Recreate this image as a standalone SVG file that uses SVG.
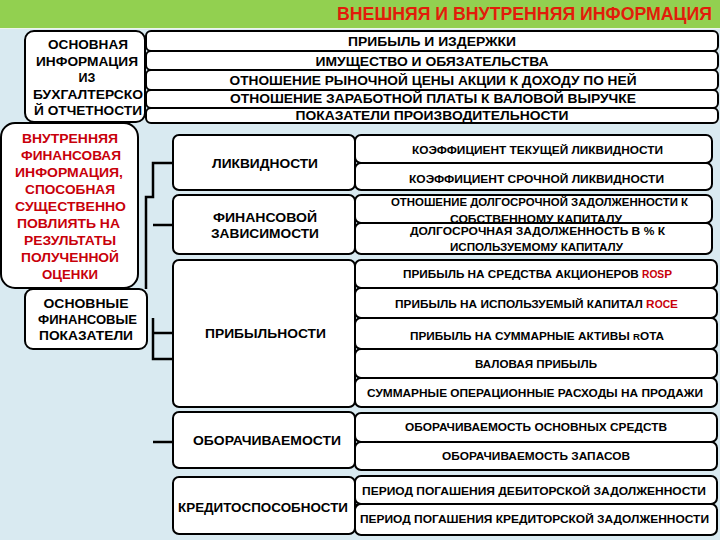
<svg xmlns="http://www.w3.org/2000/svg" width="720" height="540" viewBox="0 0 720 540">
<style>
.bx{fill:#fff;stroke:#000;stroke-width:2}
.t{font-family:"Liberation Sans",Arial,sans-serif;font-weight:bold;text-anchor:middle;fill:#000}
.h{font-size:13px}
.c{font-size:13px}
.s{font-size:11.5px}
.l{font-size:12.5px}
.red{fill:#c8000a}
.ln{stroke:#000;stroke-width:2.5;fill:none}
</style>
<rect x="0" y="0" width="720" height="540" fill="#d9eaf1"/>
<rect x="0" y="0" width="720" height="28" fill="#92d050"/>
<line x1="0" y1="28.5" x2="720" y2="28.5" stroke="#eef5ea" stroke-width="1"/>
<g id="title"><text x="712" y="20" style="font-family:'Liberation Sans',Arial,sans-serif;font-weight:bold;font-size:18px;fill:#e21c0a;text-anchor:end" textLength="375" lengthAdjust="spacingAndGlyphs">ВНЕШНЯЯ И ВНУТРЕННЯЯ ИНФОРМАЦИЯ</text></g>

<g id="connectors">
<path class="ln" d="M173,163 H153 V197 H146 V289"/>
<path class="ln" d="M153,225 H173"/>
<path class="ln" d="M153,333 H173 M173,359 H153 V318"/>
<path class="ln" d="M153,442 H173"/>
<path class="ln" d="M348,505 H360"/>
</g>

<g id="top-rows">
<g id="row-profit"><rect class="bx" x="146" y="31" width="572" height="20" rx="5"/><text class="t h" x="432" y="46.3" textLength="168" lengthAdjust="spacingAndGlyphs">ПРИБЫЛЬ И ИЗДЕРЖКИ</text></g>
<g id="row-assets"><rect class="bx" x="146" y="51" width="572" height="19" rx="5"/><text class="t h" x="432" y="65.5" textLength="233" lengthAdjust="spacingAndGlyphs">ИМУЩЕСТВО И ОБЯЗАТЕЛЬСТВА</text></g>
<g id="row-pe"><rect class="bx" x="146" y="70" width="572" height="20" rx="5"/><text class="t h" x="433" y="84.5" textLength="407" lengthAdjust="spacingAndGlyphs">ОТНОШЕНИЕ РЫНОЧНОЙ ЦЕНЫ АКЦИИ К ДОХОДУ ПО НЕЙ</text></g>
<g id="row-wage"><rect class="bx" x="146" y="90" width="572" height="18" rx="5"/><text class="t h" x="433" y="103.2" textLength="406" lengthAdjust="spacingAndGlyphs">ОТНОШЕНИЕ ЗАРАБОТНОЙ ПЛАТЫ К ВАЛОВОЙ ВЫРУЧКЕ</text></g>
<g id="row-productivity"><rect class="bx" x="146" y="108" width="572" height="15" rx="5"/><text class="t h" x="432" y="120" textLength="273" lengthAdjust="spacingAndGlyphs">ПОКАЗАТЕЛИ ПРОИЗВОДИТЕЛЬНОСТИ</text></g>
</g>

<g id="basic-info">
<rect class="bx" x="25" y="31" width="120" height="91" rx="9"/>
<text class="t l" x="88" y="49" textLength="80" lengthAdjust="spacingAndGlyphs">ОСНОВНАЯ</text>
<text class="t l" x="87" y="65.5" textLength="102" lengthAdjust="spacingAndGlyphs">ИНФОРМАЦИЯ</text>
<text class="t l" x="87" y="82">ИЗ</text>
<text class="t l" x="88" y="98.5" textLength="110" lengthAdjust="spacingAndGlyphs">БУХГАЛТЕРСКО</text>
<text class="t l" x="88" y="115" textLength="108" lengthAdjust="spacingAndGlyphs">Й ОТЧЕТНОСТИ</text>
</g>

<g id="internal-info">
<rect class="bx" x="1" y="123" width="137" height="165" rx="14"/>
<text class="t l red" x="70" y="142.5" textLength="96" lengthAdjust="spacingAndGlyphs">ВНУТРЕННЯЯ</text>
<text class="t l red" x="71" y="159.5" textLength="100" lengthAdjust="spacingAndGlyphs">ФИНАНСОВАЯ</text>
<text class="t l red" x="69" y="176.5" textLength="108" lengthAdjust="spacingAndGlyphs">ИНФОРМАЦИЯ,</text>
<text class="t l red" x="70" y="193.5" textLength="90" lengthAdjust="spacingAndGlyphs">СПОСОБНАЯ</text>
<text class="t l red" x="70.5" y="211" textLength="111" lengthAdjust="spacingAndGlyphs">СУЩЕСТВЕННО</text>
<text class="t l red" x="68.5" y="228" textLength="103" lengthAdjust="spacingAndGlyphs">ПОВЛИЯТЬ НА</text>
<text class="t l red" x="70" y="245" textLength="92" lengthAdjust="spacingAndGlyphs">РЕЗУЛЬТАТЫ</text>
<text class="t l red" x="70" y="262" textLength="98" lengthAdjust="spacingAndGlyphs">ПОЛУЧЕННОЙ</text>
<text class="t l red" x="70" y="278.5" textLength="56" lengthAdjust="spacingAndGlyphs">ОЦЕНКИ</text>
</g>

<g id="basic-indicators">
<rect class="bx" x="25" y="289" width="122" height="60" rx="8"/>
<text class="t l" x="86" y="308" textLength="85" lengthAdjust="spacingAndGlyphs">ОСНОВНЫЕ</text>
<text class="t l" x="87.5" y="324" textLength="99" lengthAdjust="spacingAndGlyphs">ФИНАНСОВЫЕ</text>
<text class="t l" x="86" y="340" textLength="94" lengthAdjust="spacingAndGlyphs">ПОКАЗАТЕЛИ</text>
</g>

<g id="cat-liquidity">
<rect class="bx" x="173" y="135" width="182" height="55" rx="6"/>
<text class="t c" x="265" y="167.5" textLength="106" lengthAdjust="spacingAndGlyphs">ЛИКВИДНОСТИ</text>
</g>
<g id="cat-dependence">
<rect class="bx" x="173" y="195" width="182" height="59" rx="6"/>
<text class="t c" x="265" y="221.5" textLength="104" lengthAdjust="spacingAndGlyphs">ФИНАНСОВОЙ</text>
<text class="t c" x="265" y="237.5" textLength="108" lengthAdjust="spacingAndGlyphs">ЗАВИСИМОСТИ</text>
</g>
<g id="cat-profitability">
<rect class="bx" x="173" y="260" width="182" height="147" rx="6"/>
<text class="t c" x="265.5" y="337.5" textLength="121" lengthAdjust="spacingAndGlyphs">ПРИБЫЛЬНОСТИ</text>
</g>
<g id="cat-turnover">
<rect class="bx" x="173" y="412" width="182" height="56" rx="6"/>
<text class="t c" x="267" y="444.5" textLength="148" lengthAdjust="spacingAndGlyphs">ОБОРАЧИВАЕМОСТИ</text>
</g>
<g id="cat-credit">
<rect class="bx" x="173" y="477" width="182" height="57" rx="6"/>
<text class="t c" x="263" y="511.5" textLength="170" lengthAdjust="spacingAndGlyphs">КРЕДИТОСПОСОБНОСТИ</text>
</g>

<g id="sub-current"><rect class="bx" x="355" y="135" width="357" height="28" rx="6"/><text class="t s" x="537.5" y="154" textLength="251" lengthAdjust="spacingAndGlyphs">КОЭФФИЦИЕНТ ТЕКУЩЕЙ ЛИКВИДНОСТИ</text></g>
<g id="sub-quick"><rect class="bx" x="355" y="163" width="357" height="27" rx="6"/><text class="t s" x="536.5" y="182.5" textLength="255" lengthAdjust="spacingAndGlyphs">КОЭФФИЦИЕНТ СРОЧНОЙ ЛИКВИДНОСТИ</text></g>
<g id="sub-ltd-equity"><rect class="bx" x="355" y="195" width="357" height="28" rx="6"/><text class="t s" x="539.5" y="206" textLength="297" lengthAdjust="spacingAndGlyphs">ОТНОШЕНИЕ ДОЛГОСРОЧНОЙ ЗАДОЛЖЕННОСТИ К</text><text class="t s" x="536" y="222.5" textLength="172" lengthAdjust="spacingAndGlyphs">СОБСТВЕННОМУ КАПИТАЛУ</text></g>
<g id="sub-ltd-capital"><rect class="bx" x="355" y="223" width="357" height="31" rx="6"/><text class="t s" x="537.5" y="235" textLength="255" lengthAdjust="spacingAndGlyphs">ДОЛГОСРОЧНАЯ ЗАДОЛЖЕННОСТЬ В % К</text><text class="t s" x="536.5" y="250.5" textLength="173" lengthAdjust="spacingAndGlyphs">ИСПОЛЬЗУЕМОМУ КАПИТАЛУ</text></g>

<g id="sub-rosp"><rect class="bx" x="355" y="260" width="362" height="28" rx="6"/><text class="t s" x="537.5" y="278" textLength="269" lengthAdjust="spacingAndGlyphs">ПРИБЫЛЬ НА СРЕДСТВА АКЦИОНЕРОВ <tspan class="red" style="font-size:10px">ROS</tspan><tspan class="red">P</tspan></text></g>
<g id="sub-roce"><rect class="bx" x="355" y="288" width="362" height="30" rx="6"/><text class="t s" x="536.5" y="308" textLength="283" lengthAdjust="spacingAndGlyphs">ПРИБЫЛЬ НА ИСПОЛЬЗУЕМЫЙ КАПИТАЛ <tspan class="red">R</tspan><tspan class="red" style="font-size:10px">OC</tspan><tspan class="red">E</tspan></text></g>
<g id="sub-rota"><rect class="bx" x="355" y="318" width="362" height="31" rx="6"/><text class="t s" x="537" y="340" textLength="254" lengthAdjust="spacingAndGlyphs">ПРИБЫЛЬ НА СУММАРНЫЕ АКТИВЫ <tspan style="font-size:9.5px">R</tspan>OTA</text></g>
<g id="sub-gross"><rect class="bx" x="355" y="349" width="362" height="29" rx="6"/><text class="t s" x="536" y="368" textLength="122" lengthAdjust="spacingAndGlyphs">ВАЛОВАЯ ПРИБЫЛЬ</text></g>
<g id="sub-opex"><rect class="bx" x="355" y="378" width="362" height="29" rx="6"/><text class="t s" x="535" y="397" textLength="336" lengthAdjust="spacingAndGlyphs">СУММАРНЫЕ ОПЕРАЦИОННЫЕ РАСХОДЫ НА ПРОДАЖИ</text></g>

<g id="sub-fixed"><rect class="bx" x="355" y="413" width="362" height="29" rx="6"/><text class="t s" x="536" y="431" textLength="262" lengthAdjust="spacingAndGlyphs">ОБОРАЧИВАЕМОСТЬ ОСНОВНЫХ СРЕДСТВ</text></g>
<g id="sub-stock"><rect class="bx" x="355" y="442" width="362" height="28" rx="6"/><text class="t s" x="536" y="460" textLength="188" lengthAdjust="spacingAndGlyphs">ОБОРАЧИВАЕМОСТЬ ЗАПАСОВ</text></g>

<g id="sub-receivable"><rect class="bx" x="355" y="476" width="362" height="28" rx="6"/><text class="t s" x="534" y="495" textLength="344" lengthAdjust="spacingAndGlyphs">ПЕРИОД ПОГАШЕНИЯ ДЕБИТОРСКОЙ ЗАДОЛЖЕННОСТИ</text></g>
<g id="sub-payable"><rect class="bx" x="355" y="504" width="362" height="31" rx="6"/><text class="t s" x="534.5" y="523" textLength="349" lengthAdjust="spacingAndGlyphs">ПЕРИОД ПОГАШЕНИЯ КРЕДИТОРСКОЙ ЗАДОЛЖЕННОСТИ</text></g>
</svg>
